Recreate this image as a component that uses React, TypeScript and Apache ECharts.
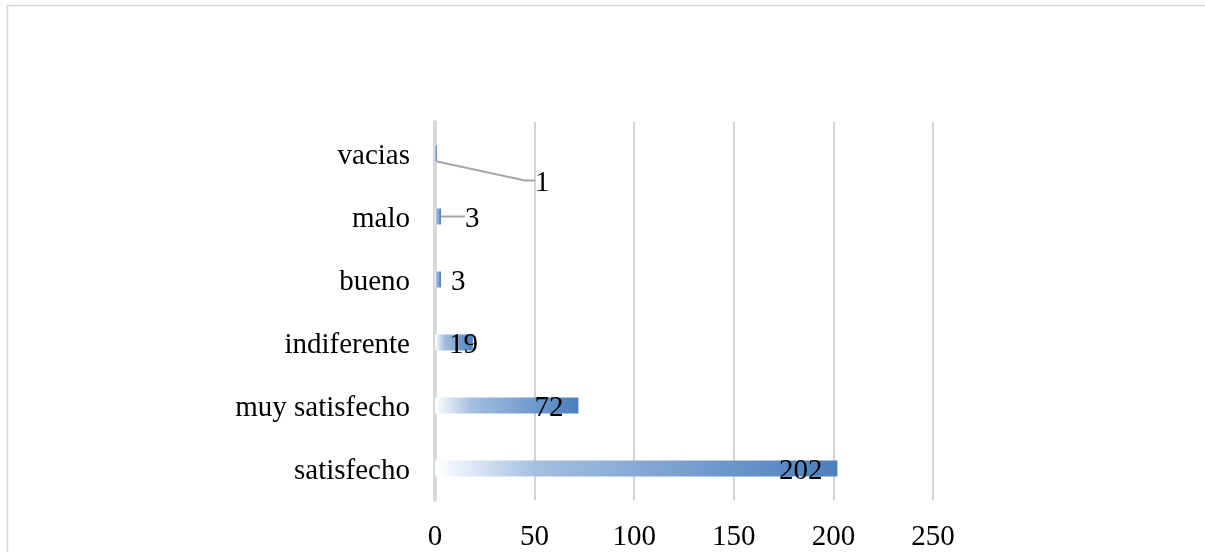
import React, { useEffect, useRef } from "react";
import * as echarts from "echarts";

const categories = ["satisfecho", "muy satisfecho", "indiferente", "bueno", "malo", "vacias"];
const values = [202, 72, 19, 3, 3, 1];
const xTicks = { min: 0, max: 250, interval: 50 };

const FONT = "'Liberation Serif', 'Times New Roman', serif";

export default function App() {
  const ref = useRef<HTMLDivElement>(null);
  useEffect(() => {
    if (!ref.current) return;
    const chart = echarts.init(ref.current, null, { renderer: "svg" });
    const labelFor = (i: number) => {
      const base = { show: true, color: "#000", fontFamily: FONT, fontSize: 29 };
      if (i <= 1) return { ...base, position: "insideRight", distance: 15 };
      if (i === 2) return { ...base, position: "insideLeft", distance: 14 };
      return { ...base, position: "right", distance: 10 };
    };
    const guided = (i: number) => i >= 4;
    chart.setOption({
      animation: false,
      graphic: [
        {
          type: "rect",
          shape: { x: 7.5, y: 5.5, width: 1300, height: 700 },
          style: { fill: "none", stroke: "#d6d6d6", lineWidth: 1.5 },
          silent: true,
        },
      ],
      grid: { left: 435, right: 272, top: 122, bottom: 52, containLabel: false },
      xAxis: {
        type: "value",
        min: xTicks.min,
        max: xTicks.max,
        interval: xTicks.interval,
        axisLine: { show: false },
        axisTick: { show: false },
        axisLabel: { color: "#000", fontFamily: FONT, fontSize: 29, margin: 20 },
        splitLine: { show: true, lineStyle: { color: "#d3d3d3", width: 2 } },
      },
      yAxis: {
        type: "category",
        data: categories,
        axisLine: { show: true, lineStyle: { color: "#d9d9d9", width: 4 } },
        axisTick: { show: false },
        axisLabel: { color: "#000", fontFamily: FONT, fontSize: 29, margin: 25 },
      },
      series: [
        {
          type: "bar",
          barWidth: 16,
          data: values.map((v, i) => ({
            value: v,
            label: labelFor(i),
            labelLine: guided(i)
              ? { show: true, length2: 10, lineStyle: { color: "#a6a6a6", width: 2 } }
              : { show: false },
          })),
          itemStyle: {
            color: new echarts.graphic.LinearGradient(0, 0, 1, 0, [
              { offset: 0, color: "#ffffff" },
              { offset: 0.25, color: "#a4bfe1" },
              { offset: 1, color: "#4b7fbf" },
            ]),
          },
          labelLine: { show: false },
          labelLayout: (params: any) => {
            if (params.dataIndex === 5) return { dx: 88, dy: 27 };
            if (params.dataIndex === 4) return { dx: 14, dy: 0 };
            return {};
          },
        },
      ],
    });
    return () => chart.dispose();
  }, []);
  return <div ref={ref} style={{ position: "fixed", left: 0, top: 0, width: 1205, height: 552 }} />;
}
